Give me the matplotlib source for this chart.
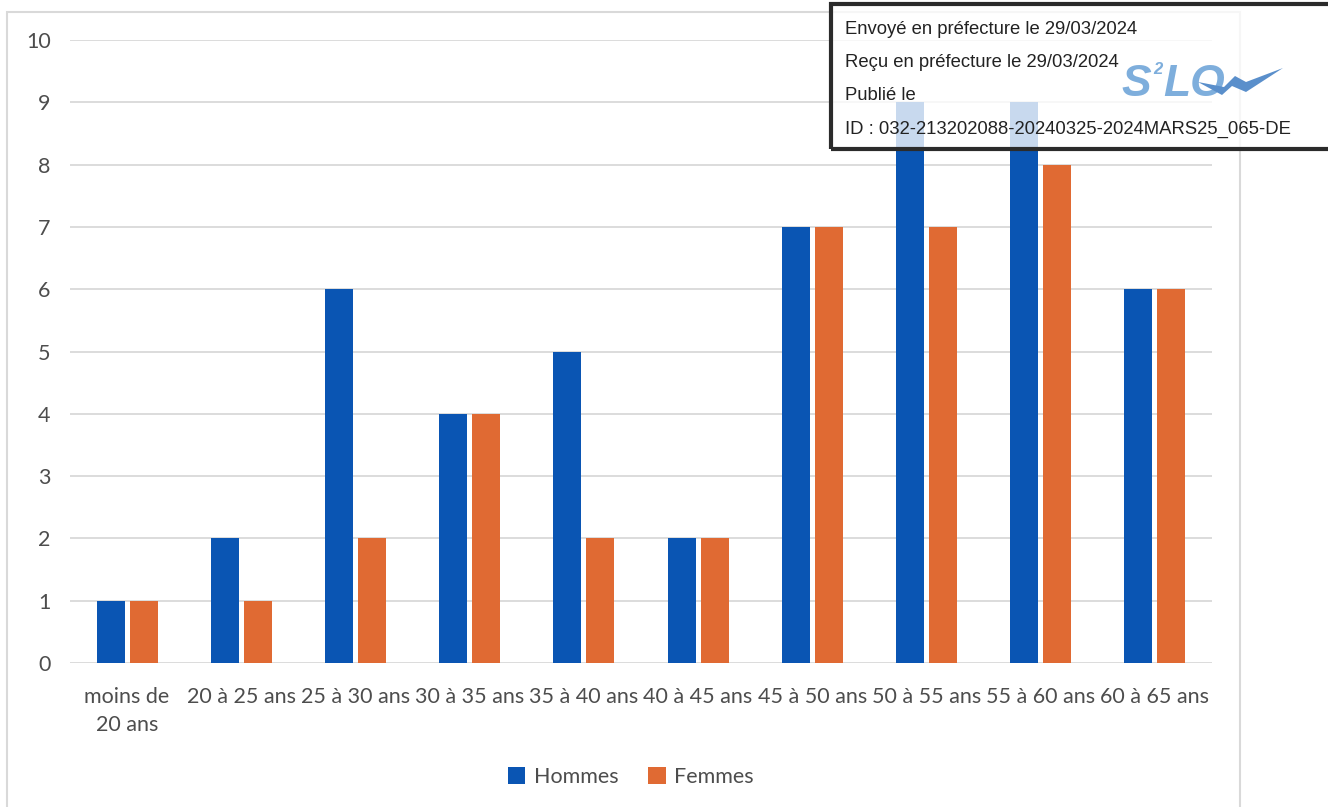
import numpy as np
import matplotlib.pyplot as plt
from matplotlib.patches import Rectangle, Polygon

# Age bands and headcount per sex
categories = ["moins de\n20 ans", "20 à 25 ans", "25 à 30 ans", "30 à 35 ans",
              "35 à 40 ans", "40 à 45 ans", "45 à 50 ans", "50 à 55 ans",
              "55 à 60 ans", "60 à 65 ans"]
hommes = [1, 2, 6, 4, 5, 2, 7, 9, 9, 6]
femmes = [1, 1, 2, 4, 2, 2, 7, 7, 8, 6]
yticks = list(range(0, 11))

stamp_lines = ["Envoyé en préfecture le 29/03/2024",
               "Reçu en préfecture le 29/03/2024",
               "Publié le",
               "ID : 032-213202088-20240325-2024MARS25_065-DE"]

blue = "#0A55B3"
orange = "#E06A33"
txt = "#4D4D4D"

W, H = 1328, 807
fig = plt.figure(figsize=(W / 100, H / 100), dpi=100)
ax = fig.add_axes([70 / W, 1 - 663 / H, 1142 / W, 623 / H])

x = np.arange(len(categories))
w = 0.245
off = 0.145
ax.bar(x - off, hommes, w, color=blue, label="Hommes", zorder=3)
ax.bar(x + off, femmes, w, color=orange, label="Femmes", zorder=3)

ax.set_xlim(-0.5, len(categories) - 0.5)
ax.set_ylim(0, 10)
ax.set_yticks(yticks)
ax.yaxis.grid(True, color="#D9D9D9", linewidth=1.3, zorder=0)
ax.set_axisbelow(True)
for s in ax.spines.values():
    s.set_visible(False)
ax.tick_params(length=0, labelcolor=txt, labelsize=15.5)
ax.tick_params(axis="y", pad=14)
ax.tick_params(axis="x", pad=17)
ax.set_xticks(x)
ax.set_xticklabels(categories, fontfamily="Lato", linespacing=1.55)
for lab in ax.get_yticklabels():
    lab.set_fontfamily("Lato")

leg = fig.legend(loc="center", bbox_to_anchor=(0.475, 1 - 777 / H), ncol=2,
                 frameon=False, prop={"family": "Lato", "size": 15.5},
                 handlelength=0.8, handleheight=0.8, handletextpad=0.4,
                 columnspacing=1.4)
for t in leg.get_texts():
    t.set_color(txt)

# outer chart frame
fig.patches.append(Rectangle((7 / W, -0.01), 1233 / W, 1 - 12 / H + 0.01,
                             transform=fig.transFigure, fill=False,
                             edgecolor="#D9D9D9", linewidth=1.5))

# transmission stamp in the top right corner
fig.patches.append(Rectangle((831 / W, 1 - 149 / H), 520 / W, 145 / H,
                             transform=fig.transFigure, facecolor="white",
                             alpha=0.78, edgecolor="none", zorder=5))
fig.patches.append(Rectangle((831 / W, 1 - 149 / H), 520 / W, 145 / H,
                             transform=fig.transFigure, fill=False,
                             edgecolor="#2B2B2B", linewidth=3, zorder=6))
for i, line in enumerate(stamp_lines):
    fig.text(845 / W, 1 - (29 + 33.5 * i) / H, line, fontsize=13.3,
             family="Liberation Sans", color="#222222", va="center", zorder=7)

logo_c = "#7EAEDC"
fig.text(1121 / W, 1 - 84 / H, "S", fontsize=32, fontweight="bold",
         style="italic", family="Liberation Sans", color=logo_c,
         va="center", zorder=7)
fig.text(1153 / W, 1 - 70 / H, "2", fontsize=12, fontweight="bold",
         style="italic", family="Liberation Sans", color=logo_c,
         va="center", zorder=7)
fig.text(1163 / W, 1 - 84 / H, "LO", fontsize=32, fontweight="bold",
         style="italic", family="Liberation Sans", color=logo_c,
         va="center", zorder=7)
swoosh = [(1198, 82), (1222, 95), (1232, 86), (1246, 92), (1283, 68),
          (1246, 82), (1235, 76), (1224, 87)]
fig.patches.append(Polygon([(px / W, 1 - py / H) for px, py in swoosh],
                           closed=True, transform=fig.transFigure,
                           facecolor="#5A8FCB", edgecolor="none", zorder=8))

fig.savefig("out.png", dpi=100)
